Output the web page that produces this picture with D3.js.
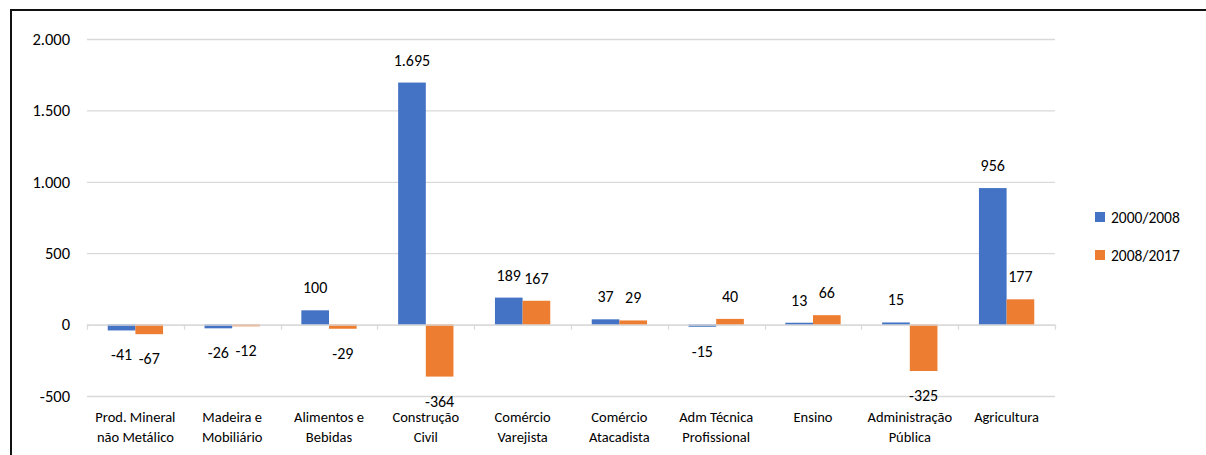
<!DOCTYPE html>
<html lang="pt">
<head>
<meta charset="utf-8">
<title>Variação por setor</title>
<script src="https://d3js.org/d3.v7.min.js"></script>
<style>
  body { margin: 0; background: #fff; }
  svg text { font-family: Carlito, Calibri, Lato, "Noto Sans", sans-serif; fill: #000; }
</style>
</head>
<body>
<script>
// categorias (quebra de linha com "\n")
var categorias = [
  "Prod. Mineral\nnão Metálico", "Madeira e\nMobiliário", "Alimentos e\nBebidas",
  "Construção\nCivil", "Comércio\nVarejista", "Comércio\nAtacadista",
  "Adm Técnica\nProfissional", "Ensino", "Administração\nPública", "Agricultura"
];
var series = ["2000/2008", "2008/2017"];
var v2000_2008 = [-41, -26, 100, 1695, 189, 37, -15, 13, 15, 956];
var v2008_2017 = [-67, -12, -29, -364, 167, 29, 40, 66, -325, 177];
var yTicks = [-500, 0, 500, 1000, 1500, 2000];
var cores = ["#4472C4", "#ED7D31"];

var W = 1206, H = 455;
var m = {left: 87, right: 151, top: 39, bottom: 59};

var loc = d3.formatLocale({decimal: ",", thousands: ".", grouping: [3], currency: ["R$", ""], minus: "-"});
var fmt = loc.format(",d");

var svg = d3.select("body").append("svg")
  .attr("width", W).attr("height", H);

// moldura
svg.append("path")
  .attr("d", "M11," + H + "V10H" + W)
  .attr("fill", "none").attr("stroke", "#111").attr("stroke-width", 2);

var x = d3.scaleBand().domain(d3.range(categorias.length))
  .range([m.left, W - m.right]);
var y = d3.scaleLinear().domain([-500, 2000]).range([396, 39]);
var xs = d3.scaleBand().domain([0, 1]).range([0, x.bandwidth()])
  .paddingInner(0).paddingOuter(0.75);

// grade
svg.append("g").selectAll("line").data(yTicks).enter().append("line")
  .attr("x1", m.left).attr("x2", W - m.right)
  .attr("y1", function(d){ return y(d) + 0.5; })
  .attr("y2", function(d){ return y(d) + 0.5; })
  .attr("stroke", "#d9d9d9").attr("stroke-width", 1.3);

// eixo Y
var yAxis = svg.append("g").attr("transform", "translate(" + (m.left - 17) + ",0)")
  .call(d3.axisLeft(y).tickValues(yTicks).tickFormat(fmt).tickSize(0).tickPadding(0));
yAxis.select(".domain").remove();
yAxis.selectAll("text").attr("font-size", 16.5).style("font-family", null);

// barras
var dados = [v2000_2008, v2008_2017];
var grupos = svg.append("g").selectAll("g").data(dados).enter().append("g")
  .attr("fill", function(d, i){ return cores[i]; });

grupos.each(function(vals, s) {
  var g = d3.select(this);
  g.selectAll("rect").data(vals).enter().append("rect")
    .attr("x", function(d, i){ return x(i) + xs(s); })
    .attr("width", xs.bandwidth())
    .attr("y", function(d){ return d >= 0 ? y(d) : y(0); })
    .attr("height", function(d){ return Math.abs(y(d) - y(0)); });

  g.selectAll("text").data(vals).enter().append("text")
    .attr("x", function(d, i){ return x(i) + xs(s) + xs.bandwidth() / 2; })
    .attr("y", function(d){ return d >= 0 ? y(d) - 17 : y(d) + 30; })
    .attr("text-anchor", "middle")
    .attr("font-size", 16)
    .text(function(d){ return fmt(d); });
});

// linha do zero e marcas
svg.append("line")
  .attr("x1", m.left).attr("x2", W - m.right)
  .attr("y1", y(0) + 0.5).attr("y2", y(0) + 0.5)
  .attr("stroke", "#d9d9d9").attr("stroke-width", 1.3);
svg.append("g").selectAll("line").data(d3.range(categorias.length + 1)).enter().append("line")
  .attr("x1", function(i){ return Math.round(m.left + i * x.step()) + 0.5; })
  .attr("x2", function(i){ return Math.round(m.left + i * x.step()) + 0.5; })
  .attr("y1", y(0)).attr("y2", y(0) + 5)
  .attr("stroke", "#d9d9d9").attr("stroke-width", 1.3);

// rótulos das categorias
svg.append("g").selectAll("text").data(categorias).enter().append("text")
  .attr("x", function(d, i){ return x(i) + x.bandwidth() / 2; })
  .attr("y", 422)
  .attr("text-anchor", "middle")
  .attr("font-size", 14.5)
  .each(function(d) {
    var t = d3.select(this);
    d.split("\n").forEach(function(l, k) {
      t.append("tspan").attr("x", t.attr("x")).attr("dy", k ? 20 : 0).text(l);
    });
  });

// legenda
var leg = svg.append("g").selectAll("g").data(series).enter().append("g")
  .attr("transform", function(d, i){ return "translate(1095," + (212 + i * 38) + ")"; });
leg.append("rect").attr("width", 10).attr("height", 10)
  .attr("fill", function(d, i){ return cores[i]; });
leg.append("text").attr("x", 16).attr("y", 10.5).attr("font-size", 15.5)
  .text(function(d){ return d; });
</script>
</body>
</html>
